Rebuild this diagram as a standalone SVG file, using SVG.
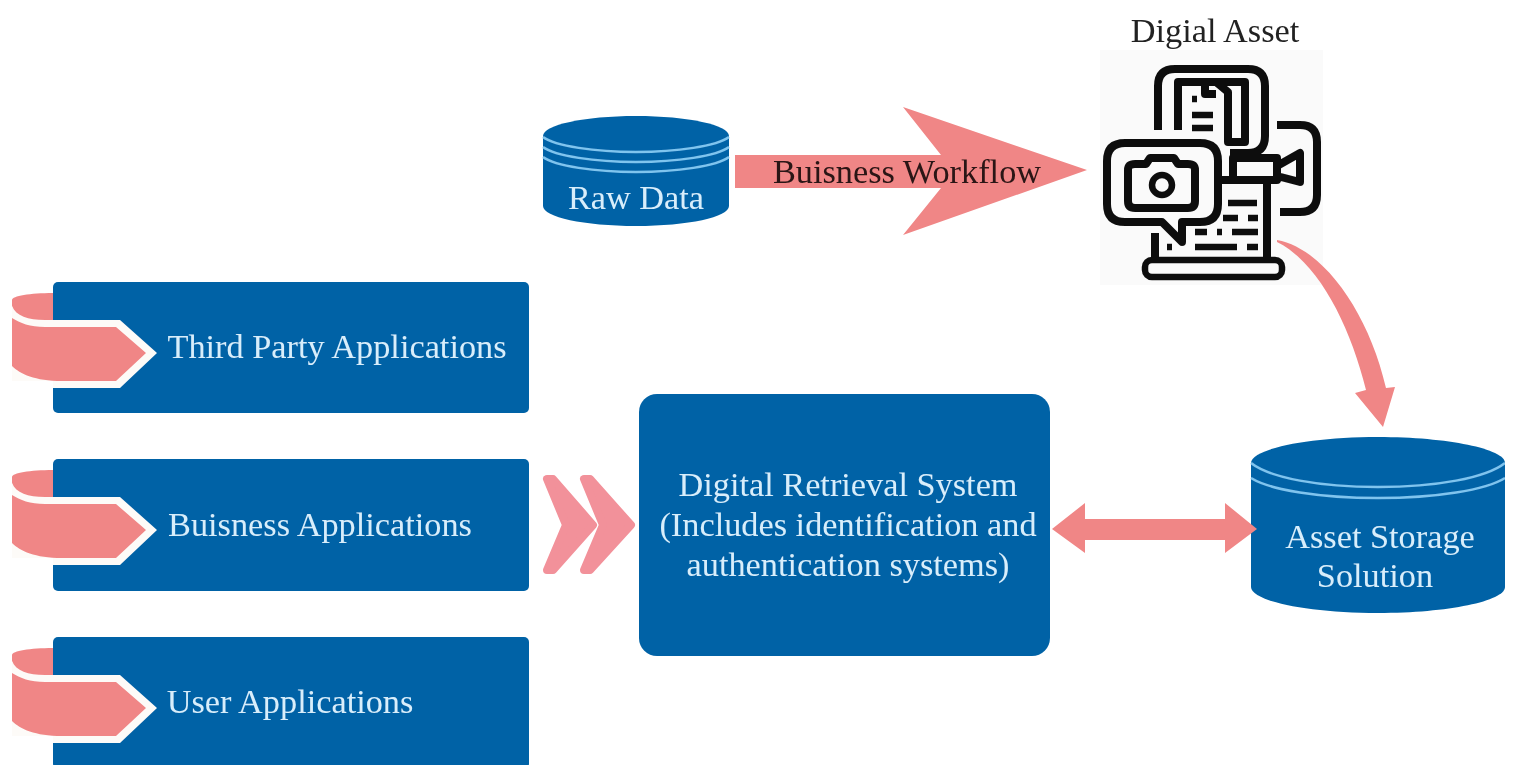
<svg xmlns="http://www.w3.org/2000/svg" width="1514" height="765" viewBox="0 0 1514 765">
<defs>
<style>
.blue{fill:#0662A6}
.pink{fill:#F08686}
.lit{fill:none;stroke:#7FC4EE;stroke-width:2.5}
.t{font-family:"Liberation Serif","Times New Roman",serif;font-size:34.3px}
.w{fill:#D8EEFB;text-anchor:middle}
.k{fill:#2A1414;text-anchor:middle}
.ic{fill:none;stroke:#111;stroke-width:8;stroke-linejoin:round}
.il{fill:none;stroke:#111;stroke-width:6.5}
</style>
<filter id="soft" x="0" y="0" width="100%" height="100%"><feGaussianBlur stdDeviation="0.7"/></filter>
<g id="tailShape">
<path class="pink" d="M12 300C12 296 30 293 53 293V322H40C25 322 12 314 12 305Z"/>
<path d="M12 306C16 316 28 320 45 320H120L157 353L120 388H53V381H12Z" fill="#FDFBF8"/>
<path class="pink" d="M12 318C20 323 30 327 45 327H116L146 353L116 381H62C35 381 20 374 12 366Z"/>
</g>
</defs>
<rect width="1514" height="765" fill="#fff"/>
<g filter="url(#soft)">
<g id="third-party"><rect class="blue" x="53" y="282" width="476" height="131" rx="5"/><use href="#tailShape"/><text class="t w" x="337" y="358">Third Party Applications</text></g>
<g id="business-apps"><rect class="blue" x="53" y="459" width="476" height="132" rx="5"/><use href="#tailShape" y="177"/><text class="t w" x="320" y="536">Buisness Applications</text></g>
<g id="user-apps"><rect class="blue" x="53" y="637" width="476" height="132" rx="5"/><use href="#tailShape" y="355"/><text class="t w" x="290" y="713">User Applications</text></g>
<g id="retrieval"><rect class="blue" x="639" y="394" width="411" height="262" rx="18"/><text class="t w" x="848" y="496">Digital Retrieval System</text><text class="t w" x="848" y="536">(Includes identification and</text><text class="t w" x="848" y="576">authentication systems)</text></g>
<g id="raw-data"><path class="blue" d="M543 136C543 125 584 116 636 116S729 125 729 136V206C729 217 688 226 636 226S543 217 543 206Z"/><path class="lit" d="M543 137C555 146 595 152 636 152S717 146 729 137M543 147C555 156 595 162 636 162S717 156 729 147M543 157C555 166 595 172 636 172S717 166 729 157"/><text class="t w" x="636" y="209">Raw Data</text></g>
<g id="storage"><path class="blue" d="M1251 463C1251 449 1308 437 1378 437S1505 449 1505 463V587C1505 601 1448 613 1378 613S1251 601 1251 587Z"/><path class="lit" d="M1251 463C1270 478 1320 487 1378 487S1486 478 1505 463M1251 478C1270 490 1320 498 1378 498S1486 490 1505 478"/><text class="t w" x="1380" y="548">Asset Storage</text><text class="t w" x="1375" y="587">Solution</text></g>
<g id="digital-asset">
<rect x="1100" y="50" width="223" height="235" fill="#FAFAFA"/>
<text class="t" x="1215" y="42" style="fill:#222;text-anchor:middle">Digial Asset</text>
<path class="ic" d="M1158 130V86Q1158 69 1175 69H1248Q1265 69 1265 86V136Q1265 153 1248 153H1230"/>
<path class="ic" d="M1178 130V82H1245V142H1228V92L1216 82M1205 82V94H1216"/>
<path class="il" d="M1192 99H1197M1192 115H1213M1192 128H1213"/>
<path class="ic" d="M1277 125H1300Q1317 125 1317 142V195Q1317 212 1300 212H1280"/>
<path class="ic" d="M1218 180H1277V158H1233V178M1277 166L1300 153V182L1277 176Z"/>
<path class="ic" d="M1125 143H1200Q1218 143 1218 161V204Q1218 222 1200 222H1182V242L1162 222H1125Q1107 222 1107 204V161Q1107 143 1125 143Z"/>
<path class="ic" d="M1128 170Q1128 164 1135 164H1146L1150 158H1174L1178 164H1188Q1195 164 1195 170V201Q1195 208 1188 208H1135Q1128 208 1128 201Z"/>
<circle cx="1162" cy="185" r="10" class="il"/>
<path class="ic" d="M1155 233V258M1267 183V258"/>
<rect x="1145" y="260" width="137" height="17" rx="7" class="il"/>
<path class="il" d="M1228 203H1257M1223 218H1238M1248 218H1258M1195 232H1207M1217 232H1222M1232 232H1258M1167 247H1172M1195 247H1237M1247 247H1258"/>
</g>
<g id="connectors">
<path class="pink" d="M735 155H941L903 107L1087 170L903 235L941 188H735Z"/>
<path class="pink" d="M1277 240C1322 248 1368 310 1386 388L1395 387L1383 427L1355 393L1366 390C1350 325 1318 262 1277 242Z"/>
<path class="pink" d="M1052 529L1085 503V519H1225V503L1257 529L1225 553V540H1085V553Z"/>
<path d="M547 479L553 479L593 525L553 570L547 570L566 525Z M584 479L590 479L631 525L590 570L584 570L603 525Z" fill="#F2919A" stroke="#F2919A" stroke-width="8" stroke-linejoin="round"/>
</g>
<text class="t k" x="907" y="183">Buisness Workflow</text>
</g>
</svg>
